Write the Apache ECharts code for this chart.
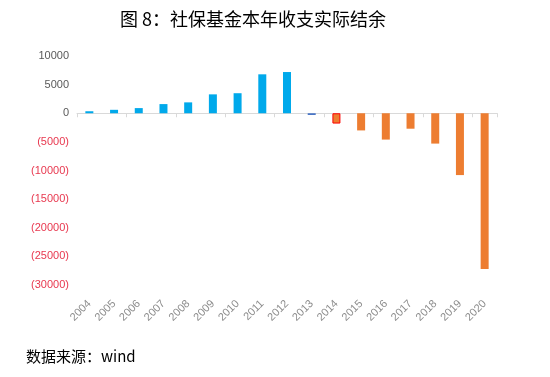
<!DOCTYPE html>
<html>
<head>
<meta charset="utf-8">
<script src="https://cdn.jsdelivr.net/npm/echarts@6/dist/echarts.min.js"></script>
<style>
  html, body { margin: 0; padding: 0; background: #fff; }
  #chart { width: 550px; height: 377px; }
</style>
</head>
<body>
<div id="chart"></div>
<script>
var years = ['2004','2005','2006','2007','2008','2009','2010','2011','2012',
             '2013','2014','2015','2016','2017','2018','2019','2020'];
var balance = [350, 600, 900, 1600, 1900, 3300, 3500, 6800, 7200,
               -300, -1800, -3000, -4600, -2700, -5300, -10800, -27200];
var barColors = ['#00a9eb','#00a9eb','#00a9eb','#00a9eb','#00a9eb','#00a9eb','#00a9eb','#00a9eb','#00a9eb',
                 '#4472c4','#ed7d31','#ed7d31','#ed7d31','#ed7d31','#ed7d31','#ed7d31','#ed7d31'];
var yTicks = [-30000, 10000, 5000];

var chart = echarts.init(document.getElementById('chart'));

var barData = balance.map(function (v, i) {
  var item = { value: v, itemStyle: { color: barColors[i] } };
  if (years[i] === '2014') {
    item.itemStyle.borderColor = '#ff0000';
    item.itemStyle.borderWidth = 1;
  }
  return item;
});

var option = {
  animation: false,
  title: [{
    text: '图 8：社保基金本年收支实际结余',
    left: 115,
    top: 5,
    textStyle: { fontFamily: 'Noto Sans CJK SC', fontSize: 18, fontWeight: 'normal', color: '#000' }
  }, {
    text: '数据来源：wind',
    left: 21,
    top: 344,
    textStyle: { fontFamily: 'Noto Sans CJK SC', fontSize: 15, fontWeight: 'normal', color: '#000' }
  }],
  grid: { left: 77, right: 53, top: 56, bottom: 92 },
  xAxis: [{
    type: 'category',
    data: years,
    axisLine: { onZero: true, lineStyle: { color: '#d9d9d9' } },
    axisTick: { show: true, length: 4, lineStyle: { color: '#d9d9d9' } },
    axisLabel: { show: false }
  }, {
    type: 'category',
    data: years,
    position: 'bottom',
    axisLine: { show: false, onZero: false },
    axisTick: { show: false },
    axisLabel: { rotate: 45, margin: 17, color: '#8c8c8c', fontSize: 11, fontFamily: 'Liberation Sans' }
  }],
  yAxis: {
    type: 'value',
    min: yTicks[0],
    max: yTicks[1],
    interval: yTicks[2],
    axisLine: { show: false },
    axisTick: { show: false },
    splitLine: { show: false },
    axisLabel: {
      margin: 8,
      fontSize: 11,
      fontFamily: 'Liberation Sans',
      formatter: function (v) {
        return v < 0 ? '{neg|(' + (-v) + ')}' : '{pos|' + v + '}';
      },
      rich: {
        pos: { color: '#595959', fontSize: 11, fontFamily: 'Liberation Sans' },
        neg: { color: '#e8384f', fontSize: 11, fontFamily: 'Liberation Sans' }
      }
    }
  },
  series: [{
    type: 'bar',
    barWidth: 8,
    data: barData
  }]
};

chart.setOption(option);
</script>
</body>
</html>
